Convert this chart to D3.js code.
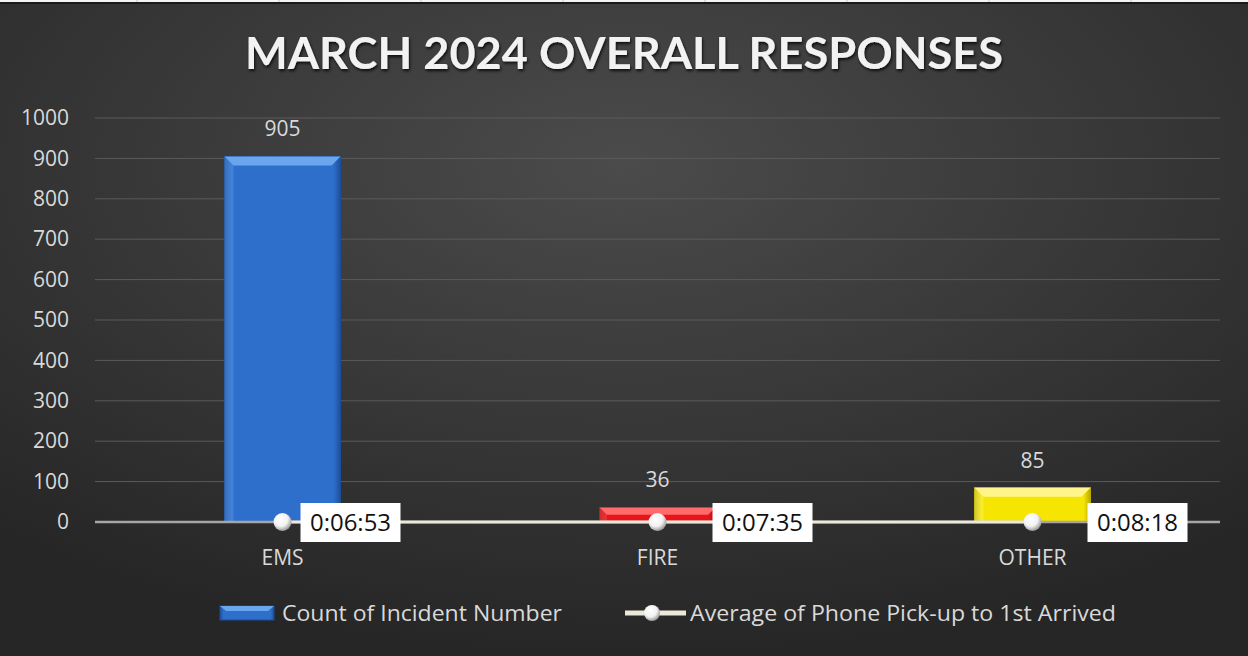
<!DOCTYPE html>
<html>
<head>
<meta charset="utf-8">
<script src="https://cdn.jsdelivr.net/npm/d3@7"></script>
<style>
  html, body { margin: 0; padding: 0; background: #fff; }
  svg { display: block; }
</style>
</head>
<body>
<div id="chart"></div>
<script>
// data
const categories = ["EMS", "FIRE", "OTHER"];
const incidentCounts = [905, 36, 85];
const avgPickupToArrived = ["0:06:53", "0:07:35", "0:08:18"];
const yTicks = [0, 100, 200, 300, 400, 500, 600, 700, 800, 900, 1000];
const seriesNames = ["Count of Incident Number", "Average of Phone Pick-up to 1st Arrived"];

// layout bits (not data)
const barColors = [
  { base: "#2e6fcc", light: "#6aa6ee", dark: "#1d4f99" },
  { base: "#e8141b", light: "#ff6a6a", dark: "#a80e12" },
  { base: "#f5e500", light: "#fff58a", dark: "#b8aa00" }
];
const labelOffsets = [18, 55, 55];

function toDays(t) {
  const p = t.split(":").map(Number);
  return (p[0] * 3600 + p[1] * 60 + p[2]) / 86400;
}

const W = 1248, H = 656;
const margin = { left: 95, right: 28, top: 118, bottom: 134 };
const font = "'Open Sans', sans-serif";

const svg = d3.select("#chart").append("svg")
  .attr("width", W).attr("height", H);

const defs = svg.append("defs");
const bg = defs.append("radialGradient").attr("id", "bgGrad")
  .attr("cx", "50%").attr("cy", "25%").attr("r", "75%");
bg.append("stop").attr("offset", "0%").attr("stop-color", "#4b4b4b");
bg.append("stop").attr("offset", "100%").attr("stop-color", "#262626");

const ball = defs.append("radialGradient").attr("id", "ballGrad")
  .attr("cx", "40%").attr("cy", "35%").attr("r", "65%");
ball.append("stop").attr("offset", "0%").attr("stop-color", "#ffffff");
ball.append("stop").attr("offset", "60%").attr("stop-color", "#f2f2f2");
ball.append("stop").attr("offset", "100%").attr("stop-color", "#9a9a9a");

const shadow = defs.append("filter").attr("id", "titleShadow")
  .attr("x", "-5%").attr("y", "-20%").attr("width", "110%").attr("height", "140%");
shadow.append("feDropShadow").attr("dx", 1).attr("dy", 2).attr("stdDeviation", 1.5)
  .attr("flood-color", "#000").attr("flood-opacity", 0.8);

barColors.forEach((c, i) => {
  const g = defs.append("linearGradient").attr("id", "barGrad" + i)
    .attr("x1", "0%").attr("y1", "0%").attr("x2", "100%").attr("y2", "0%");
  g.append("stop").attr("offset", "0%").attr("stop-color", c.dark);
  g.append("stop").attr("offset", "6%").attr("stop-color", c.base);
  g.append("stop").attr("offset", "94%").attr("stop-color", c.base);
  g.append("stop").attr("offset", "100%").attr("stop-color", c.dark);
});

// background + excel strip on top
svg.append("rect").attr("width", W).attr("height", H).attr("fill", "url(#bgGrad)");
svg.append("rect").attr("x", 0).attr("y", 0).attr("width", W).attr("height", 2).attr("fill", "#f4f4f4");
[137, 279, 421, 563, 705, 847, 989, 1131].forEach(x => {
  svg.append("line").attr("x1", x).attr("x2", x).attr("y1", 0).attr("y2", 2)
    .attr("stroke", "#c8c8c8");
});
svg.append("rect").attr("x", 0).attr("y", 2).attr("width", W).attr("height", 2).attr("fill", "#1a1a1a");

// title
svg.append("text")
  .attr("x", 624).attr("y", 69)
  .attr("text-anchor", "middle")
  .attr("font-family", "Lato, 'Open Sans', sans-serif")
  .attr("font-weight", 700)
  .attr("font-size", 44)
  .attr("fill", "#f2f2f2")
  .attr("textLength", 758)
  .attr("lengthAdjust", "spacingAndGlyphs")
  .attr("filter", "url(#titleShadow)")
  .text("MARCH 2024 OVERALL RESPONSES");

const x = d3.scaleBand().domain(categories)
  .range([margin.left, W - margin.right]).paddingInner(0).paddingOuter(0);
const y = d3.scaleLinear().domain([0, 1000]).range([H - margin.bottom, margin.top]);

// gridlines
svg.append("g").selectAll("line").data(yTicks.filter(d => d > 0)).join("line")
  .attr("x1", margin.left).attr("x2", W - margin.right)
  .attr("y1", d => y(d)).attr("y2", d => y(d))
  .attr("stroke", "#5b5b5b").attr("stroke-width", 1);

// y axis labels
const yAxis = d3.axisLeft(y).tickValues(yTicks).tickFormat(d3.format("d")).tickSize(0).tickPadding(0);
const yG = svg.append("g").attr("transform", `translate(${margin.left - 26},0)`).call(yAxis);
yG.select(".domain").remove();
yG.selectAll("text")
  .attr("fill", "#d9d9d9")
  .attr("font-family", font)
  .attr("font-size", 21);

// bars
const barW = 116;
const bars = svg.append("g").selectAll("g").data(categories).join("g");
bars.each(function (c, i) {
  const g = d3.select(this);
  const x0 = x(c) + x.bandwidth() / 2 - barW / 2;
  const yt = y(incidentCounts[i]);
  const yb = y(0);
  const col = barColors[i];
  g.append("rect").attr("x", x0).attr("y", yt).attr("width", barW).attr("height", yb - yt)
    .attr("fill", "url(#barGrad" + i + ")")
    .attr("stroke", col.dark).attr("stroke-width", 1);
  const bev = Math.min(9, (yb - yt) / 2);
  g.append("path")
    .attr("d", `M${x0},${yt} L${x0 + barW},${yt} L${x0 + barW - bev},${yt + bev} L${x0 + bev},${yt + bev} Z`)
    .attr("fill", col.light);
  g.append("path")
    .attr("d", `M${x0},${yt} L${x0 + bev},${yt + bev} L${x0 + bev},${yb} L${x0},${yb} Z`)
    .attr("fill", col.light).attr("opacity", 0.35);
});

// bar value labels
svg.append("g").selectAll("text").data(categories).join("text")
  .attr("x", c => x(c) + x.bandwidth() / 2)
  .attr("y", (c, i) => y(incidentCounts[i]) - 20)
  .attr("text-anchor", "middle")
  .attr("fill", "#d9d9d9")
  .attr("font-family", font)
  .attr("font-size", 21)
  .text((c, i) => incidentCounts[i]);

// zero axis line
svg.append("line")
  .attr("x1", margin.left).attr("x2", W - margin.right)
  .attr("y1", y(0)).attr("y2", y(0))
  .attr("stroke", "#a6a6a6").attr("stroke-width", 2.5);

// category labels
const xAxis = d3.axisBottom(x).tickSize(0).tickPadding(0);
const xG = svg.append("g").attr("transform", `translate(0,${y(0) + 43})`).call(xAxis);
xG.select(".domain").remove();
xG.selectAll("text")
  .attr("dy", 0)
  .attr("fill", "#d9d9d9")
  .attr("font-family", font)
  .attr("font-size", 21);

// line series (avg time, plotted as fraction of a day)
const pts = categories.map((c, i) => ({ c, i, v: toDays(avgPickupToArrived[i]) }));
const line = d3.line().x(d => x(d.c) + x.bandwidth() / 2).y(d => y(d.v));
svg.append("path").datum(pts).attr("d", line)
  .attr("fill", "none").attr("stroke", "#ece8da").attr("stroke-width", 3);
svg.append("g").selectAll("circle").data(pts).join("circle")
  .attr("cx", d => x(d.c) + x.bandwidth() / 2)
  .attr("cy", d => y(d.v))
  .attr("r", 9)
  .attr("fill", "url(#ballGrad)");

// line labels
const lbl = svg.append("g").selectAll("g").data(pts).join("g")
  .attr("transform", d => `translate(${x(d.c) + x.bandwidth() / 2 + labelOffsets[d.i]},${y(d.v) - 19})`);
lbl.append("rect").attr("width", 100).attr("height", 39).attr("fill", "#ffffff");
lbl.append("text").attr("x", 50).attr("y", 28)
  .attr("text-anchor", "middle")
  .attr("fill", "#111")
  .attr("font-family", font)
  .attr("font-size", 23)
  .attr("textLength", 81)
  .attr("lengthAdjust", "spacingAndGlyphs")
  .text(d => avgPickupToArrived[d.i]);

// legend
const leg = svg.append("g").attr("font-family", font).attr("font-size", 21);
leg.append("rect").attr("x", 220).attr("y", 606).attr("width", 54).attr("height", 14)
  .attr("fill", "url(#barGrad0)").attr("stroke", "#1d4f99");
leg.append("path").attr("d", "M220,606 L274,606 L268,611 L226,611 Z").attr("fill", "#6aa6ee");
leg.append("text").attr("x", 282).attr("y", 621).attr("fill", "#d9d9d9")
  .attr("textLength", 280).attr("lengthAdjust", "spacingAndGlyphs").text(seriesNames[0]);
leg.append("line").attr("x1", 625).attr("x2", 686).attr("y1", 613).attr("y2", 613)
  .attr("stroke", "#ece8da").attr("stroke-width", 5);
leg.append("circle").attr("cx", 652).attr("cy", 613).attr("r", 8).attr("fill", "url(#ballGrad)");
leg.append("text").attr("x", 690).attr("y", 621).attr("fill", "#d9d9d9")
  .attr("textLength", 426).attr("lengthAdjust", "spacingAndGlyphs").text(seriesNames[1]);
</script>
</body>
</html>
